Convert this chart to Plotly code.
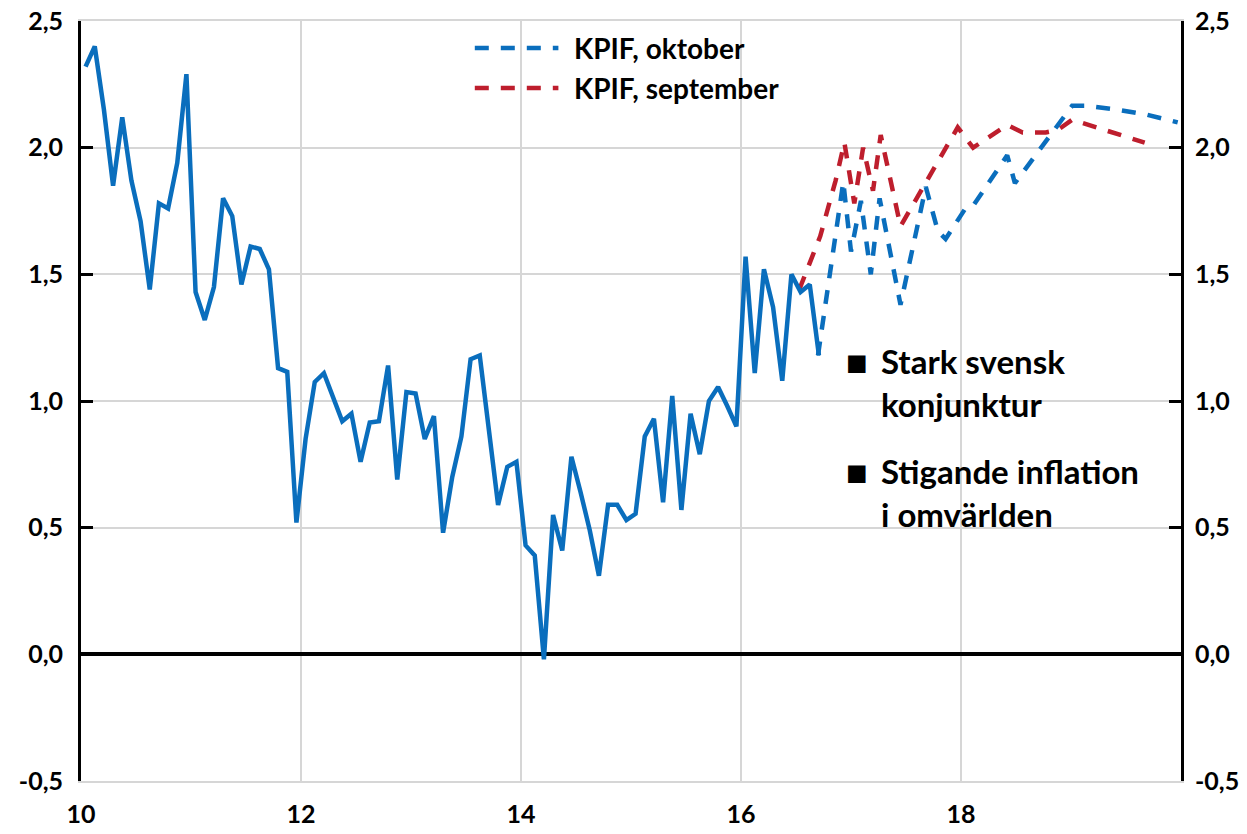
import plotly.graph_objects as go

# KPIF outcome, monthly from Jan 2010
start_year = 10
kpif_outcome = [
    2.32, 2.40, 2.15, 1.85, 2.12, 1.87, 1.71, 1.44, 1.78, 1.76, 1.94, 2.29,
    1.43, 1.32, 1.45, 1.80, 1.73, 1.46, 1.61, 1.60, 1.52, 1.13, 1.115, 0.52,
    0.85, 1.075, 1.11, 1.01, 0.92, 0.95, 0.76, 0.915, 0.92, 1.14, 0.69, 1.035,
    1.03, 0.85, 0.94, 0.48, 0.70, 0.86, 1.165, 1.18, 0.88, 0.59, 0.74, 0.76,
    0.43, 0.39, -0.02, 0.55, 0.41, 0.78, 0.64, 0.49, 0.31, 0.59, 0.59, 0.53,
    0.555, 0.86, 0.93, 0.60, 1.02, 0.57, 0.95, 0.79, 1.00, 1.055, 0.98, 0.90,
    1.57, 1.11, 1.52, 1.37, 1.08, 1.50, 1.43, 1.46, 1.18,
]

# forecasts (x in years, 10 = 2010)
okt_x = [16.70, 16.93, 17.00, 17.09, 17.18, 17.26, 17.45, 17.68, 17.79, 17.86,
         18.04, 18.11, 18.42, 18.49, 19.01, 19.14, 19.42, 19.69, 19.97]
okt_y = [1.18, 1.865, 1.59, 1.79, 1.50, 1.80, 1.38, 1.845, 1.67, 1.64,
         1.76, 1.77, 1.97, 1.86, 2.165, 2.165, 2.15, 2.13, 2.10]

sep_x = [16.53, 16.72, 16.86, 16.94, 17.03, 17.11, 17.20, 17.27, 17.45, 17.97,
         18.11, 18.42, 18.56, 18.77, 18.88, 19.01, 19.67]
sep_y = [1.44, 1.65, 1.87, 2.02, 1.78, 2.00, 1.83, 2.05, 1.69, 2.08,
         2.00, 2.09, 2.06, 2.06, 2.07, 2.11, 2.02]

legend_names = ["KPIF, oktober", "KPIF, september"]
notes = [["Stark svensk", "konjunktur"], ["Stigande inflation", "i omvärlden"]]

y_ticks = [-0.5, 0.0, 0.5, 1.0, 1.5, 2.0, 2.5]
y_ticktext = ["-0,5", "0,0", "0,5", "1,0", "1,5", "2,0", "2,5"]
x_ticks = [10, 12, 14, 16, 18]
x_ticktext = ["10", "12", "14", "16", "18"]

BLUE = "#0A6EBD"
RED = "#BE1E2D"
GRID = "#d6d6d6"
FONT = dict(family="Lato", size=25, color="black", weight=700)
DASH = "14px,12px"

outcome_x = [start_year + (i + 0.5) / 12 for i in range(len(kpif_outcome))]

fig = go.Figure()
fig.add_trace(go.Scatter(x=sep_x, y=sep_y, mode="lines",
                         line=dict(color=RED, width=4.5, dash=DASH),
                         name=legend_names[1], showlegend=False))
fig.add_trace(go.Scatter(x=okt_x, y=okt_y, mode="lines",
                         line=dict(color=BLUE, width=4.5, dash=DASH),
                         name=legend_names[0], showlegend=False))
fig.add_trace(go.Scatter(x=outcome_x, y=kpif_outcome, mode="lines",
                         line=dict(color=BLUE, width=4.5),
                         name="KPIF", showlegend=False))
# dummy trace so the right axis gets drawn
fig.add_trace(go.Scatter(x=[None], y=[None], yaxis="y2", showlegend=False,
                         hoverinfo="skip"))

# hand-made legend (long dashed samples)
for i, (name, col) in enumerate(zip(legend_names, [BLUE, RED])):
    yp = 0.9645 - i * 0.0527
    fig.add_shape(type="line", xref="paper", yref="paper",
                  x0=0.358, x1=0.434, y0=yp, y1=yp,
                  line=dict(color=col, width=4.5, dash=DASH))
    fig.add_annotation(text=name, xref="paper", yref="paper", x=0.446, y=yp,
                       xanchor="left", yanchor="middle", showarrow=False,
                       font=dict(FONT, size=28))

# bullet notes
for j, block in enumerate(notes):
    y_first = 0.5526 - j * 0.1447
    fig.add_annotation(text="■", xref="paper", yref="paper", x=0.7055,
                       y=y_first, xanchor="center", yanchor="middle",
                       showarrow=False, font=dict(FONT, size=36))
    for k, line in enumerate(block):
        fig.add_annotation(text=line, xref="paper", yref="paper", x=0.7255,
                           y=y_first - k * 0.0566, xanchor="left",
                           yanchor="middle", showarrow=False,
                           font=dict(FONT, size=33))

yax = dict(range=[-0.5, 2.5], tickvals=y_ticks, ticktext=y_ticktext,
           showline=True, linecolor="black", linewidth=3,
           ticks="inside", ticklen=12, tickwidth=3, tickcolor="black",
           tickfont=FONT, automargin=False, ticklabeloverflow="allow")

# page body has an 8px margin, so the figure is sized/offset for that
fig.update_layout(
    width=1239, height=826,
    margin=dict(l=73, r=66, t=13, b=53, autoexpand=False),
    paper_bgcolor="white", plot_bgcolor="white",
    showlegend=False,
    xaxis=dict(range=[10, 20], tickvals=x_ticks, ticktext=x_ticktext,
               showgrid=True, gridcolor=GRID, gridwidth=1.5,
               # grey top/bottom border stands in for the 2,5 and -0,5 gridlines
               showline=True, mirror=True, linecolor=GRID, linewidth=2,
               ticks="", zeroline=False, automargin=False,
               ticklabeloverflow="allow",
               tickfont=FONT, ticklabelstandoff=10),
    yaxis=dict(yax, showgrid=True, gridcolor=GRID, gridwidth=1.5,
               zeroline=True, zerolinecolor="black", zerolinewidth=4,
               side="left", ticklabelstandoff=10),
    yaxis2=dict(yax, overlaying="y", side="right", showgrid=False,
                zeroline=False, ticklabelstandoff=6),
)

fig.write_html("out.html")
